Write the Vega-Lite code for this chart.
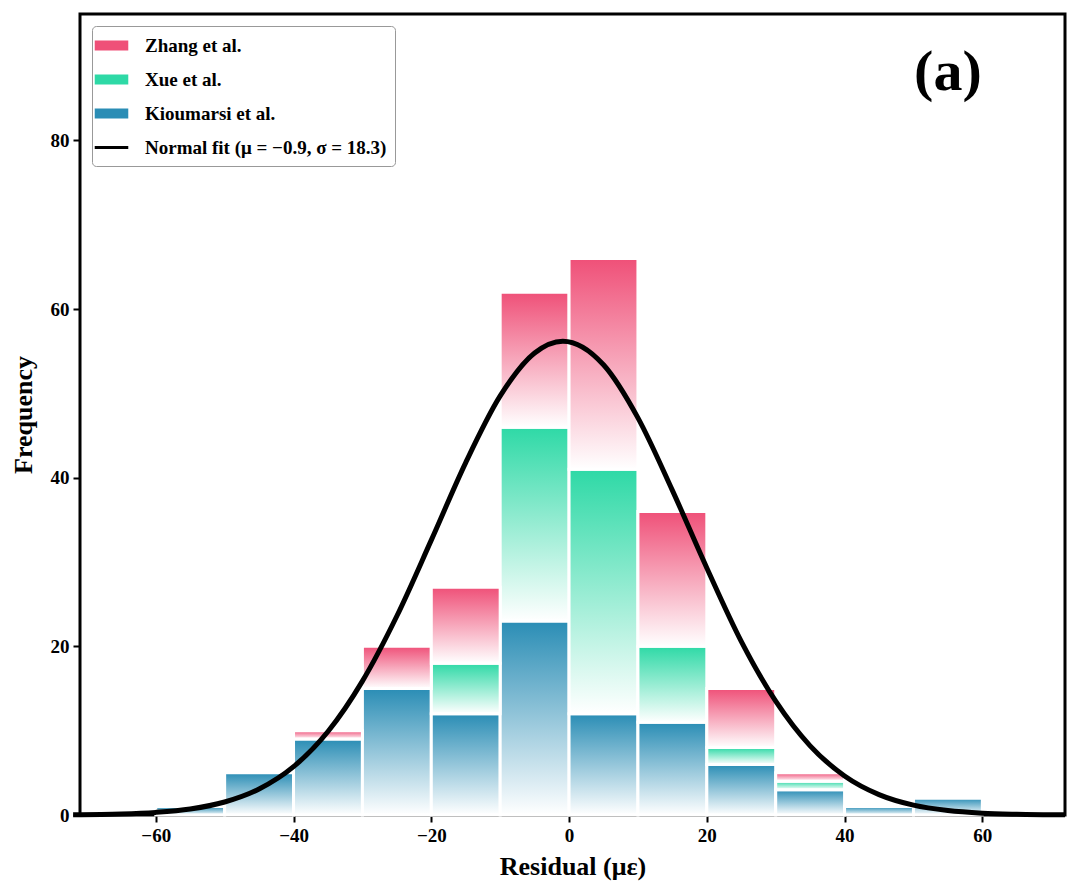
{
"$schema":"https://vega.github.io/schema/vega-lite/v6.json",
"width":985,"height":801,"autosize":"none",
"padding":{"left":80,"top":14,"right":15,"bottom":81},
"background":"white",
"config":{"font":"Liberation Serif","view":{"stroke":"black","strokeWidth":3},
"axis":{"labelFont":"Liberation Serif","labelFontWeight":"bold","labelFontSize":19,"labelColor":"black","titleFont":"Liberation Serif","titleFontWeight":"bold","titleFontSize":26,"titleColor":"black","tickColor":"black","tickWidth":2,"tickSize":7,"domain":false,"grid":false,"labelPadding":4}},
"datasets":{
"bars":[
{"s":"Kioumarsi et al.","b0":-60,"b1":-50,"y0":0,"y1":1},
{"s":"Kioumarsi et al.","b0":-50,"b1":-40,"y0":0,"y1":5},
{"s":"Kioumarsi et al.","b0":-40,"b1":-30,"y0":0,"y1":9},
{"s":"Kioumarsi et al.","b0":-30,"b1":-20,"y0":0,"y1":15},
{"s":"Kioumarsi et al.","b0":-20,"b1":-10,"y0":0,"y1":12},
{"s":"Kioumarsi et al.","b0":-10,"b1":0,"y0":0,"y1":23},
{"s":"Kioumarsi et al.","b0":0,"b1":10,"y0":0,"y1":12},
{"s":"Kioumarsi et al.","b0":10,"b1":20,"y0":0,"y1":11},
{"s":"Kioumarsi et al.","b0":20,"b1":30,"y0":0,"y1":6},
{"s":"Kioumarsi et al.","b0":30,"b1":40,"y0":0,"y1":3},
{"s":"Kioumarsi et al.","b0":40,"b1":50,"y0":0,"y1":1},
{"s":"Kioumarsi et al.","b0":50,"b1":60,"y0":0,"y1":2},
{"s":"Xue et al.","b0":-20,"b1":-10,"y0":12,"y1":18},
{"s":"Xue et al.","b0":-10,"b1":0,"y0":23,"y1":46},
{"s":"Xue et al.","b0":0,"b1":10,"y0":12,"y1":41},
{"s":"Xue et al.","b0":10,"b1":20,"y0":11,"y1":20},
{"s":"Xue et al.","b0":20,"b1":30,"y0":6,"y1":8},
{"s":"Xue et al.","b0":30,"b1":40,"y0":3,"y1":4},
{"s":"Zhang et al.","b0":-40,"b1":-30,"y0":9,"y1":10},
{"s":"Zhang et al.","b0":-30,"b1":-20,"y0":15,"y1":20},
{"s":"Zhang et al.","b0":-20,"b1":-10,"y0":18,"y1":27},
{"s":"Zhang et al.","b0":-10,"b1":0,"y0":46,"y1":62},
{"s":"Zhang et al.","b0":0,"b1":10,"y0":41,"y1":66},
{"s":"Zhang et al.","b0":10,"b1":20,"y0":20,"y1":36},
{"s":"Zhang et al.","b0":20,"b1":30,"y0":8,"y1":15},
{"s":"Zhang et al.","b0":30,"b1":40,"y0":4,"y1":5}
],
"curve":[
{"x":-72,"y":0.03},{"x":-65,"y":0.12},{"x":-60,"y":0.31},{"x":-55,"y":0.71},{"x":-50,"y":1.54},{"x":-45,"y":3.08},{"x":-40,"y":5.73},{"x":-35,"y":9.9},{"x":-30,"y":15.88},{"x":-25,"y":23.6},{"x":-20,"y":32.6},{"x":-15,"y":41.8},{"x":-10,"y":49.7},{"x":-5,"y":54.8},{"x":-0.9,"y":56.2},{"x":5,"y":53.4},{"x":10,"y":47.1},{"x":15,"y":38.5},{"x":20,"y":29.3},{"x":25,"y":20.6},{"x":30,"y":13.5},{"x":35,"y":8.2},{"x":40,"y":4.63},{"x":45,"y":2.42},{"x":50,"y":1.17},{"x":55,"y":0.53},{"x":60,"y":0.22},{"x":65,"y":0.09},{"x":72,"y":0.02}
],
"leg":[{"s":"Zhang et al."},{"s":"Xue et al."},{"s":"Kioumarsi et al."},{"s":"Normal fit (μ = −0.9, σ = 18.3)"}],
"lab":[{"t":"(a)","x":55,"y":88}]
},
"layer":[
{"data":{"name":"bars"},"transform":[{"filter":"datum.s==='Kioumarsi et al.'"}],
"mark":{"type":"rect","stroke":"white","strokeWidth":3,"fill":{"gradient":"linear","x1":0,"y1":0,"x2":0,"y2":1,"stops":[{"offset":0,"color":"#2a8db5"},{"offset":1,"color":"#ffffff"}]}},
"encoding":{"x":{"field":"b0","type":"quantitative","scale":{"domain":[-71,72],"nice":false,"zero":false},"axis":{"title":"Residual (με)","values":[-60,-40,-20,0,20,40,60],"titlePadding":8}},"x2":{"field":"b1"},
"y":{"field":"y0","type":"quantitative","scale":{"domain":[0,95],"nice":false},"axis":{"title":"Frequency","values":[0,20,40,60,80],"titlePadding":14}},"y2":{"field":"y1"}}},
{"data":{"name":"bars"},"transform":[{"filter":"datum.s==='Xue et al.'"}],
"mark":{"type":"rect","stroke":"white","strokeWidth":3,"fill":{"gradient":"linear","x1":0,"y1":0,"x2":0,"y2":1,"stops":[{"offset":0,"color":"#2ed9a6"},{"offset":1,"color":"#ffffff"}]}},
"encoding":{"x":{"field":"b0","type":"quantitative"},"x2":{"field":"b1"},"y":{"field":"y0","type":"quantitative"},"y2":{"field":"y1"}}},
{"data":{"name":"bars"},"transform":[{"filter":"datum.s==='Zhang et al.'"}],
"mark":{"type":"rect","stroke":"white","strokeWidth":3,"fill":{"gradient":"linear","x1":0,"y1":0,"x2":0,"y2":1,"stops":[{"offset":0,"color":"#ef5078"},{"offset":1,"color":"#ffffff"}]}},
"encoding":{"x":{"field":"b0","type":"quantitative"},"x2":{"field":"b1"},"y":{"field":"y0","type":"quantitative"},"y2":{"field":"y1"}}},
{"data":{"name":"curve"},"mark":{"type":"line","color":"black","strokeWidth":5,"interpolate":"monotone"},
"encoding":{"x":{"field":"x","type":"quantitative"},"y":{"field":"y","type":"quantitative"}}},
{"data":{"name":"leg"},"mark":{"type":"point","opacity":0,"filled":true},
"encoding":{"x":{"datum":0,"type":"quantitative"},"y":{"datum":0,"type":"quantitative"},
"color":{"field":"s","type":"nominal","sort":null,"scale":{"domain":["Zhang et al.","Xue et al.","Kioumarsi et al.","Normal fit (μ = −0.9, σ = 18.3)"],"range":["#ef5078","#2ed9a6","#2a8db5","#000000"]},
"legend":{"title":null,"orient":"top-left","offset":12,"fillColor":"white","strokeColor":"#999999","padding":8,"cornerRadius":4,"labelFont":"Liberation Serif","labelFontWeight":"bold","labelFontSize":19,"labelColor":"black","labelLimit":0,"symbolOpacity":1,"symbolStrokeWidth":0,"symbolSize":500,"symbolType":"M-1.5,-0.45H1.5V0.45H-1.5Z","rowPadding":12,"labelOffset":22,
"encode":{"symbols":{"update":{"shape":[{"test":"datum.index===3","value":"M-1.5,-0.14H1.5V0.14H-1.5Z"},{"value":"M-1.5,-0.45H1.5V0.45H-1.5Z"}]}}}}}}},
{"data":{"name":"lab"},"mark":{"type":"text","font":"Liberation Serif","fontWeight":"bold","fontSize":58,"color":"black"},
"encoding":{"x":{"field":"x","type":"quantitative"},"y":{"field":"y","type":"quantitative"},"text":{"field":"t"}}}
]
}
